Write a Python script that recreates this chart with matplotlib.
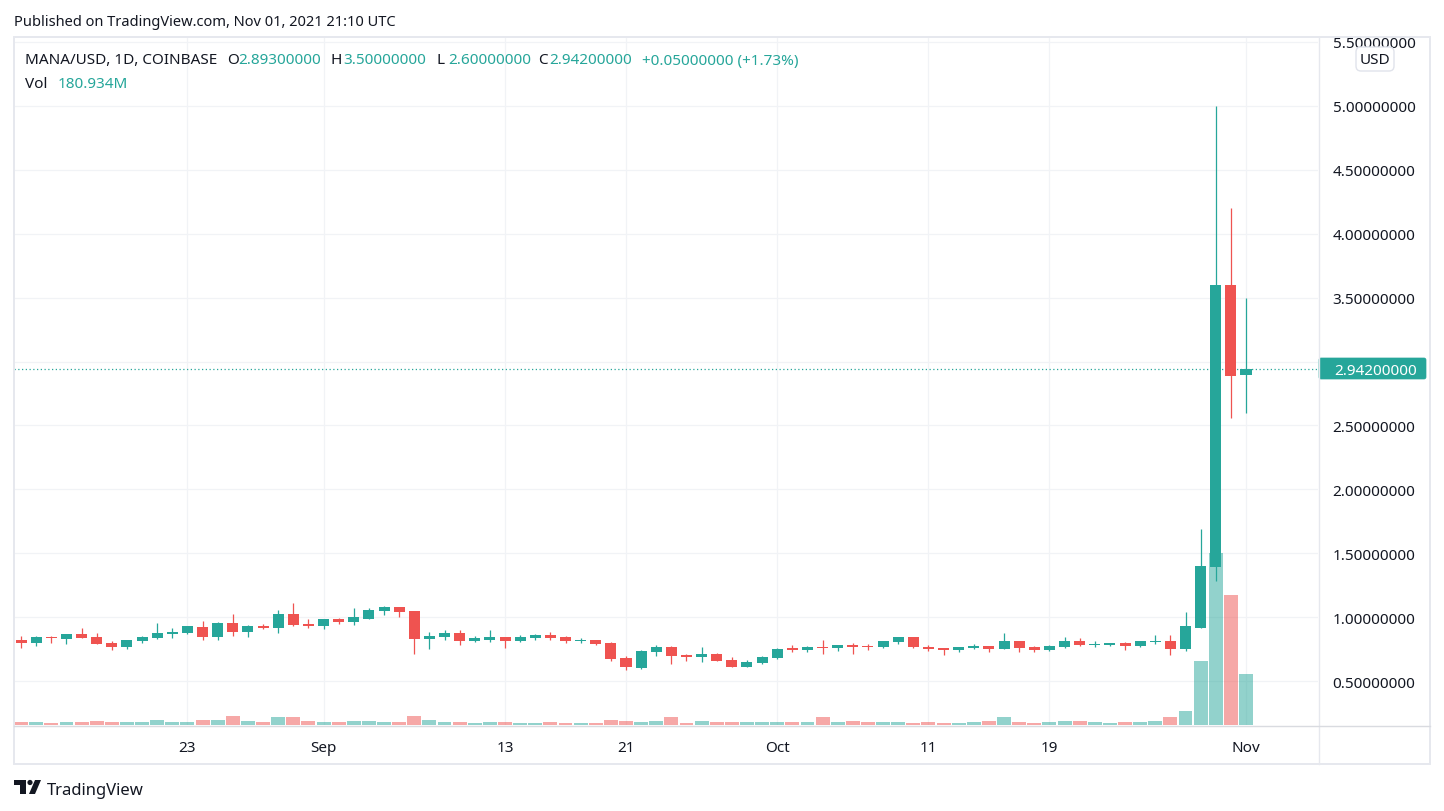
import matplotlib
matplotlib.use("Agg")
import matplotlib.pyplot as plt
from matplotlib.patches import Polygon, Circle, FancyBboxPatch, Rectangle

# daily candles starting 12 Aug 2021
opens = [.823,.799,.846,.831,.870,.846,.799,.768,.815,.839,.870,.878,.924,.846,.956,.885,.932,.917,1.026,.948,
         .932,.987,.964,.987,1.049,1.081,1.049,.831,.846,.878,.815,.823,.846,.815,.839,.862,.846,.815,.823,.799,
         .682,.604,.729,.768,.706,.690,.714,.667,.612,.643,.682,.760,.745,.768,.760,.784,.776,.768,.807,.846,
         .768,.760,.745,.760,.776,.753,.815,.768,.745,.768,.815,.784,.784,.799,.776,.807,.815,.753,.917,1.393,
         3.6,2.893]
highs = [.854,.854,.854,.870,.917,.878,.815,.823,.854,.956,.917,.932,.971,.964,1.026,.940,.948,1.057,1.112,.987,
         .987,.995,1.073,1.073,1.089,1.081,1.049,.885,.901,.901,.854,.901,.846,.862,.870,.885,.854,.839,.823,.807,
         .698,.745,.784,.776,.714,.768,.721,.690,.667,.698,.760,.784,.776,.823,.784,.799,.792,.815,.846,.846,
         .784,.760,.768,.792,.776,.878,.815,.776,.784,.846,.839,.815,.799,.807,.815,.862,.862,1.042,1.690,5.0,
         4.2,3.5]
lows = [.760,.776,.799,.792,.839,.792,.745,.753,.799,.831,.839,.870,.823,.823,.854,.846,.909,.878,.932,.917,
        .909,.948,.940,.987,1.018,1.003,.714,.753,.823,.784,.807,.807,.760,.807,.823,.823,.799,.799,.784,.659,
        .589,.596,.698,.635,.659,.651,.659,.612,.612,.635,.674,.729,.729,.714,.737,.714,.745,.760,.792,.760,
        .737,.706,.729,.753,.729,.753,.729,.729,.737,.760,.776,.768,.776,.745,.768,.792,.706,.737,.917,1.281,
        2.56,2.6]
closes = [.799,.846,.834,.870,.839,.792,.768,.823,.846,.878,.885,.932,.846,.956,.885,.932,.917,1.026,.940,.932,
          .987,.964,1.003,1.057,1.081,1.042,.831,.854,.878,.815,.839,.846,.815,.846,.862,.839,.815,.823,.792,.674,
          .612,.737,.768,.698,.690,.714,.659,.612,.651,.690,.753,.745,.768,.760,.784,.768,.768,.815,.846,.768,
          .753,.745,.768,.776,.753,.815,.760,.745,.776,.815,.784,.792,.799,.776,.815,.815,.753,.932,1.401,3.6,
          2.889,2.942]
# volume in millions
volumes = [10.6,10.6,8.3,10.6,10.6,14.2,10.6,10.6,10.6,17.7,10.6,10.6,17.7,17.7,31.9,14.2,10.6,28.4,28.4,14.2,
           10.6,10.6,14.2,14.2,10.6,10.6,31.9,17.7,10.6,10.6,8.3,10.6,10.6,8.3,7.1,10.6,8.3,8.3,7.1,17.7,
           14.2,10.6,14.2,28.4,7.1,14.2,10.6,10.6,10.6,10.6,10.6,10.6,10.6,28.4,10.6,14.2,10.6,10.6,10.6,8.3,
           10.6,8.3,7.1,10.6,14.2,28.4,10.6,7.1,10.6,14.2,14.2,10.6,7.1,10.6,10.6,14.2,28.4,49.7,227.0,609.0,
           461.0,180.9]

time_ticks = [11, 20, 32, 40, 50, 60, 68, 81]
time_labels = ["23", "Sep", "13", "21", "Oct", "11", "19", "Nov"]
price_ticks = [0.5, 1.0, 1.5, 2.0, 2.5, 3.0, 3.5, 4.0, 4.5, 5.0, 5.5]
last_price = 2.942

GREEN = "#26a69a"
RED = "#ef5350"
DARK = "#131722"
GRID = "#f1f3f6"
BORDER = "#e6e8ee"
FONT = "Noto Sans"
FS = 11
W, H = 1444, 812

plt.rcParams['font.family'] = [FONT, 'DejaVu Sans']

fig = plt.figure(figsize=(W / 100, H / 100), dpi=100, facecolor="white")
rect = [14 / W, 1 - 726 / H, (1318 - 14) / W, (726 - 38) / H]
xlim = (-0.47, 85.76)
ylim = (0.156, 5.539)

days = list(range(len(opens)))
colors = [GREEN if c >= o else RED for o, c in zip(opens, closes)]

# grid and tick labels at the very bottom, volume over that, candles on top
ax_grid = fig.add_axes(rect, zorder=0)
ax_grid.set_xlim(xlim)
ax_grid.set_ylim(ylim)
ax_grid.set_axisbelow(True)
ax_grid.grid(True, color=GRID, linewidth=0.9)
for s in ax_grid.spines.values():
    s.set_visible(False)
ax_grid.yaxis.tick_right()
ax_grid.set_yticks(price_ticks)
ax_grid.set_yticklabels(["%.8f" % p for p in price_ticks])
ax_grid.set_xticks(time_ticks)
ax_grid.set_xticklabels(time_labels)
ax_grid.tick_params(axis="y", length=0, pad=10.5, labelsize=FS, labelcolor=DARK)
ax_grid.tick_params(axis="x", length=0, pad=11, labelsize=FS, labelcolor=DARK)

ax_vol = fig.add_axes(rect, zorder=1)
ax_vol.bar(days, volumes, width=0.92, color=colors, alpha=0.5, linewidth=0)
ax_vol.set_xlim(xlim)
ax_vol.set_ylim(0, 2440)
ax_vol.axis("off")

ax = fig.add_axes(rect, zorder=2)
ax.set_xlim(xlim)
ax.set_ylim(ylim)
ax.axis("off")
ax.vlines(days, lows, highs, colors=colors, linewidth=0.9, zorder=3)
bottoms = [min(o, c) for o, c in zip(opens, closes)]
heights = [abs(c - o) for o, c in zip(opens, closes)]
ax.bar(days, heights, bottom=bottoms, width=0.73, color=colors, linewidth=0, zorder=4)
ax.axhline(last_price, color=GREEN, linewidth=0.9, linestyle=(0, (1, 2)), zorder=2)

# overlay in pixel coords for frame, header and logo
top = fig.add_axes([0, 0, 1, 1], zorder=5)
top.patch.set_visible(False)
top.set_xlim(0, W)
top.set_ylim(H, 0)
top.axis("off")

top.add_patch(Rectangle((13.5, 38), 1416.5, 727, fill=False, edgecolor=BORDER, linewidth=1.4))
top.plot([1318.5, 1318.5], [38, 765], color=BORDER, linewidth=1)
top.plot([14, 1430], [726.5, 726.5], color="#d9dbe0", linewidth=1)

# last price tag and currency box
top.add_patch(FancyBboxPatch((1319, 359), 107, 21, boxstyle="round,pad=0,rounding_size=2",
                             facecolor=GREEN, edgecolor=GREEN, linewidth=0.5))
top.text(1417, 370, "%.8f" % last_price, color="white", fontsize=FS, ha="right", va="center_baseline")
top.add_patch(FancyBboxPatch((1356, 48), 38, 24, boxstyle="round,pad=0,rounding_size=5",
                             facecolor="white", edgecolor="#e0e3eb", linewidth=1))
top.text(1375, 59, "USD", color=DARK, fontsize=FS, ha="center", va="center_baseline")

top.text(14, 20, "Published on TradingView.com, Nov 01, 2021 21:10 UTC", color=DARK, fontsize=10.55,
         ha="left", va="center_baseline")

header = [(25, "MANA/USD, 1D, COINBASE", DARK), (227, "O", DARK), (238, "2.89300000", GREEN),
          (330, "H", DARK), (343, "3.50000000", GREEN), (436, "L", DARK), (448, "2.60000000", GREEN),
          (538, "C", DARK), (549, "2.94200000", GREEN), (642, "+0.05000000 (+1.73%)", GREEN)]
for x, s, c in header:
    top.text(x, 59, s, color=c, fontsize=FS, ha="left", va="center_baseline")
top.text(25, 83, "Vol", color=DARK, fontsize=FS, ha="left", va="center_baseline")
top.text(58, 83, "180.934M", color=GREEN, fontsize=FS, ha="left", va="center_baseline")

# logo
top.add_patch(Polygon([(14, 781), (26, 781), (26, 795), (20, 795), (20, 786), (14, 786)], color=DARK, linewidth=0))
top.add_patch(Circle((30, 783.5), 2.6, color=DARK, linewidth=0))
top.add_patch(Polygon([(35, 781), (41, 781), (35, 795), (29, 795)], color=DARK, linewidth=0))
top.text(47, 789, "TradingView", color=DARK, fontsize=12, ha="left", va="center_baseline")

fig.savefig("out.png", dpi=100, facecolor="white")
